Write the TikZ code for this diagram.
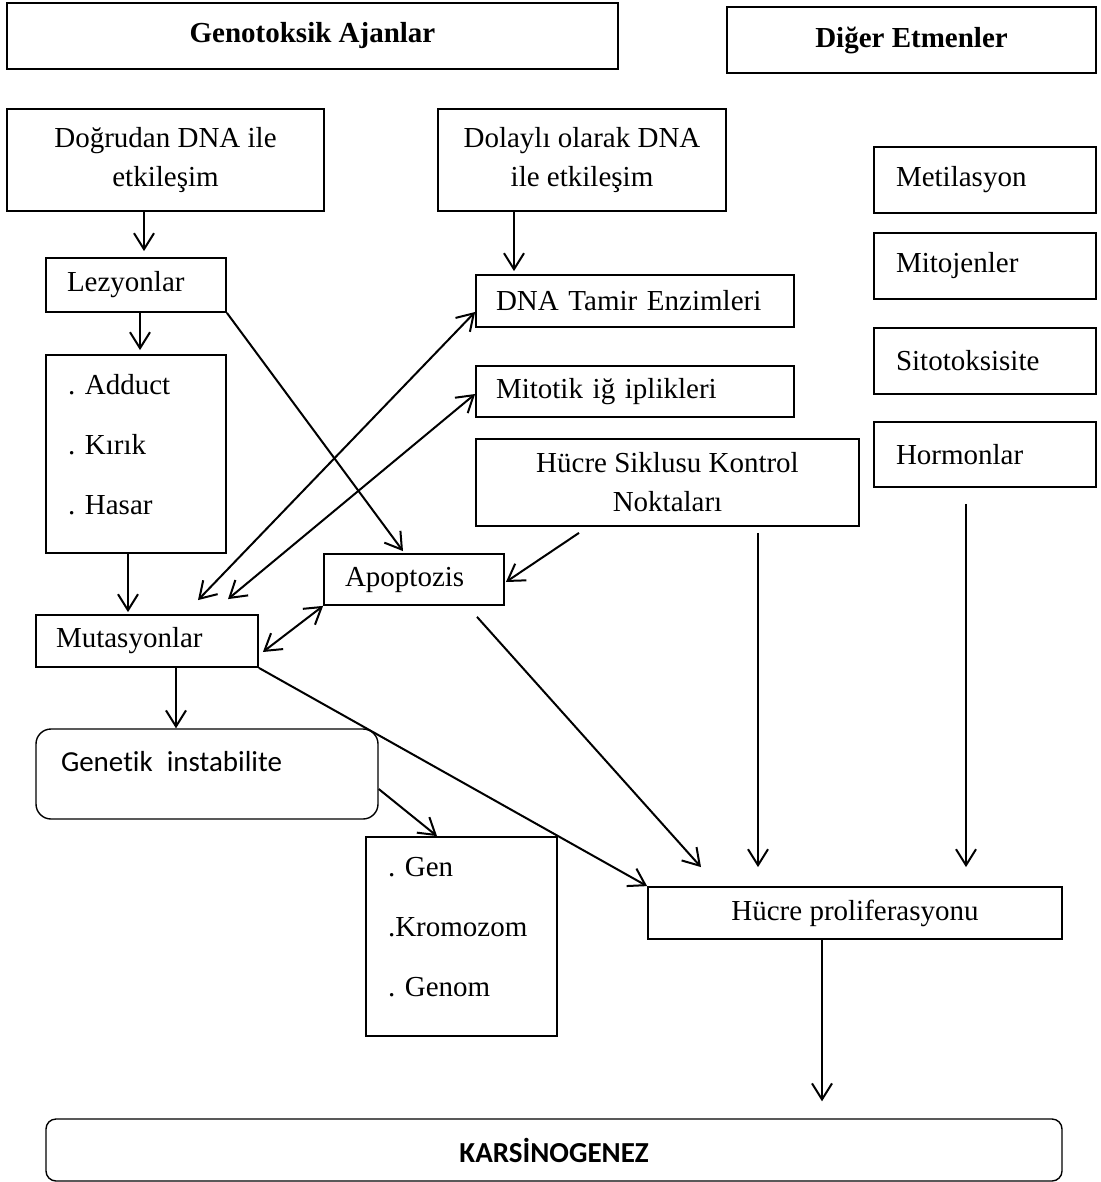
\documentclass[tikz,border=0pt]{standalone}
\usepackage{fontspec}
\setmainfont{Liberation Serif}
\newfontfamily\calibri[Ligatures=NoCommon]{Carlito}
\usetikzlibrary{arrows.meta}
\frenchspacing

\begin{document}
\begin{tikzpicture}[x=0.5pt, y=-0.5pt, >={Straight Barb[length=8pt,width=10pt]},
		every node/.style={font=\fontsize{14.5}{19.5}\selectfont, inner sep=0pt},
		box/.style={draw, line width=0.9pt},
		lbox/.style={box, align=left},
		arr/.style={->, line width=1pt},
		darr/.style={<->, line width=1pt}]
			\useasboundingbox (0,0) rectangle (1101,1182);

			\node[box, minimum width=305.5pt, minimum height=33pt] (gen) at (312.5,36) {\textbf{Genotoksik Ajanlar}};
			\node[box, minimum width=184.5pt, minimum height=33pt] (dig) at (911.5,40) {\textbf{Diğer Etmenler}};

			\node[box, align=center, minimum width=158.5pt, minimum height=51pt] (dog) at (165.5,160) {Doğrudan DNA ile\\etkileşim};
			\node[box, align=center, minimum width=144pt, minimum height=51pt] (dol) at (582,160) {Dolaylı olarak DNA\\ile etkileşim};

			\node[lbox, text width=89pt, minimum width=111pt, minimum height=33pt] (met) at (985,180) {Metilasyon};
			\node[lbox, text width=89pt, minimum width=111pt, minimum height=33pt] (mito) at (985,266) {Mitojenler};
			\node[lbox, text width=89pt, minimum width=111pt, minimum height=33pt] (sit) at (985,361) {Sitotoksisite};
			\node[lbox, text width=89pt, minimum width=111pt, minimum height=32.5pt] (hor) at (985,454.5) {Hormonlar};

			\node[lbox, text width=69pt, minimum width=90pt, minimum height=27pt] (lez) at (136,285) {Lezyonlar};
			\node[lbox, text width=139pt, minimum width=159pt, minimum height=26pt] (tam) at (635,301) {DNA Tamir Enzimleri};
			\node[lbox, text width=68pt, minimum width=90pt, minimum height=99pt, text depth=70pt,
				font=\fontsize{14.5}{30}\selectfont] (add) at (136,454) {. Adduct\\. Kırık\\. Hasar};
			\node[lbox, text width=139pt, minimum width=159pt, minimum height=25.5pt] (mit) at (635,391.5) {Mitotik iğ iplikleri};
			\node[box, align=center, minimum width=191.5pt, minimum height=43.5pt] (hsk) at (667.5,482.5) {Hücre Siklusu Kontrol\\Noktaları};
			\node[lbox, text width=69pt, minimum width=90pt, minimum height=25.5pt] (apo) at (414,579.5) {Apoptozis};
			\node[lbox, text width=91pt, minimum width=111pt, minimum height=26pt] (mut) at (147,641) {Mutasyonlar};

			\node[lbox, rounded corners=7.5pt, line width=0.7pt, text width=146pt, minimum width=171pt, minimum height=45pt,
				text depth=13pt, font=\calibri\fontsize{14.5}{19.5}\selectfont] (gi) at (207,774) {Genetik\hspace{7pt}instabilite};
			\node[lbox, text width=73.5pt, minimum width=95.5pt, minimum height=99.5pt, text depth=69.5pt,
				font=\fontsize{14.5}{30}\selectfont] (gkg) at (461.5,936.5) {. Gen\\.Kromozom\\. Genom};
			\node[box, minimum width=207pt, minimum height=26pt] (hp) at (855,913) {Hücre proliferasyonu};
			\node[box, rounded corners=5pt, line width=0.7pt, minimum width=508pt, minimum height=31pt,
				font=\calibri\bfseries\fontsize{14.5}{19.5}\selectfont] (kar) at (554,1150) {KARSİNOGENEZ};

			\draw[arr] ([xshift=-10.75pt]dog.south) -- ([xshift=4pt,yshift=3pt]lez.north);
			\draw[arr] ([xshift=-34pt]dol.south) -- ([xshift=-60.5pt,yshift=1.5pt]tam.north);
			\draw[arr] ([xshift=2pt]lez.south) -- ([xshift=2pt,yshift=2pt]add.north);
			\draw[arr] ([xshift=-4pt]add.south) -- ([xshift=-9.5pt,yshift=1pt]mut.north);
			\draw[arr] (lez.south east) -- ([xshift=-5.5pt,yshift=1pt]apo.north);
			\draw[darr] ([xshift=25.5pt,yshift=7pt]mut.north) -- ([yshift=-5.5pt]tam.west);
			\draw[darr] ([xshift=40.5pt,yshift=7.5pt]mut.north) -- ([yshift=-1.25pt]mit.west);
			\draw[arr] ([xshift=-44.25pt,yshift=-3pt]hsk.south) -- ([xshift=0.5pt,yshift=-1.25pt]apo.east);
			\draw[darr] ([xshift=2pt,yshift=-5.5pt]mut.east) -- (apo.south west);
			\draw[arr] ([xshift=31.5pt,yshift=-5.5pt]apo.south) -- ([xshift=-77pt,yshift=9.5pt]hp.north);
			\draw[arr] ([xshift=45.25pt,yshift=-3pt]hsk.south) -- ([xshift=-48.5pt,yshift=9.5pt]hp.north);
			\draw[arr] ([xshift=-9.5pt,yshift=-8pt]hor.south) -- ([xshift=55.5pt,yshift=9.5pt]hp.north);
			\draw[arr] (mut.south east) -- (hp.north west);
			\draw[arr] ([xshift=14.5pt]mut.south) -- ([xshift=-15.5pt]gi.north);
			\draw[arr] ([yshift=-7.5pt]gi.east) -- ([xshift=-12.25pt]gkg.north);
			\draw[arr] ([xshift=-16.5pt]hp.south) -- ([xshift=134pt,yshift=8.5pt]kar.north);
		\end{tikzpicture}
\end{document}
